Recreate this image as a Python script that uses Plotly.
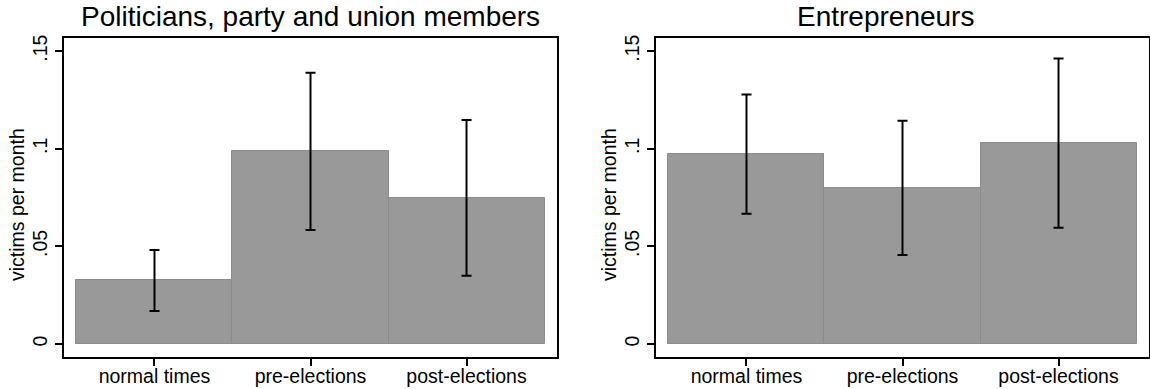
import plotly.graph_objects as go

categories = ["normal times", "pre-elections", "post-elections"]
x_pos = [1, 2, 3]

pol_values = [0.0326, 0.0988, 0.0749]
pol_upper = [0.0481, 0.1389, 0.1147]
pol_lower = [0.0169, 0.0584, 0.0350]

ent_values = [0.0974, 0.0800, 0.1029]
ent_upper = [0.1278, 0.1143, 0.1462]
ent_lower = [0.0667, 0.0456, 0.0595]

y_tickvals = [0, 0.05, 0.1, 0.15]
y_ticktext = ["0", ".05", ".1", ".15"]

titles = ["Politicians, party and union members", "Entrepreneurs"]
y_title = "victims per month"

W, H = 1150, 389
FONT = "Liberation Sans, Arial, sans-serif"
BAR = "#999999"
EDGE = "#8c8c8c"

fig = go.Figure()

panels = [
    (pol_values, pol_upper, pol_lower, "x", "y"),
    (ent_values, ent_upper, ent_lower, "x2", "y2"),
]
for vals, up, lo, xa, ya in panels:
    fig.add_trace(go.Bar(
        x=x_pos, y=vals, width=1,
        marker=dict(color=BAR, line=dict(color=EDGE, width=1)),
        error_y=dict(type="data", symmetric=False,
                     array=[u - v for u, v in zip(up, vals)],
                     arrayminus=[v - l for v, l in zip(vals, lo)],
                     color="black", thickness=2, width=5),
        xaxis=xa, yaxis=ya, showlegend=False, hoverinfo="skip",
    ))

px_x = lambda p: p / W
px_y = lambda p: (H - p) / H

top, bottom = 38, 357
dom_y = [px_y(bottom), px_y(top)]
left_dom = [px_x(64), px_x(557)]
right_dom = [px_x(656), px_x(1149)]

xaxis_common = dict(
    range=[0.42, 3.58], tickvals=x_pos, ticktext=categories,
    ticks="outside", ticklen=7, tickwidth=1.5, tickcolor="black",
    ticklabelstandoff=-6,
    showline=True, linecolor="black", linewidth=1.5, mirror=True,
    showgrid=False, zeroline=False, automargin=False,
    tickfont=dict(family=FONT, size=19.5, color="black"),
)
yaxis_common = dict(
    range=[-0.00666, 0.1567], tickvals=y_tickvals, ticktext=y_ticktext,
    ticks="outside", ticklen=7, tickwidth=1.5, tickcolor="black",
    tickangle=-90,
    showline=True, linecolor="black", linewidth=1.5, mirror=True,
    showgrid=False, zeroline=False, automargin=False,
    tickfont=dict(family=FONT, size=19.5, color="black"),
    domain=dom_y,
)

fig.update_layout(
    template="none",
    width=W, height=H,
    margin=dict(l=0, r=0, t=0, b=0, pad=0),
    paper_bgcolor="white", plot_bgcolor="white",
    bargap=0,
    xaxis=dict(domain=left_dom, anchor="y", **xaxis_common),
    yaxis=dict(anchor="x", **yaxis_common),
    xaxis2=dict(domain=right_dom, anchor="y2", **xaxis_common),
    yaxis2=dict(anchor="x2", **yaxis_common),
)

annotations = [
    dict(text=titles[0], x=px_x(310), y=px_y(17), xref="paper", yref="paper",
         xanchor="center", yanchor="middle", showarrow=False,
         font=dict(family=FONT, size=28, color="black")),
    dict(text=titles[1], x=px_x(885), y=px_y(17), xref="paper", yref="paper",
         xanchor="center", yanchor="middle", showarrow=False,
         font=dict(family=FONT, size=28, color="black")),
    dict(text=y_title, x=px_x(17), y=px_y(205), xref="paper", yref="paper",
         xanchor="center", yanchor="middle", showarrow=False, textangle=-90,
         font=dict(family=FONT, size=19.5, color="black")),
    dict(text=y_title, x=px_x(609), y=px_y(205), xref="paper", yref="paper",
         xanchor="center", yanchor="middle", showarrow=False, textangle=-90,
         font=dict(family=FONT, size=19.5, color="black")),
]
fig.update_layout(annotations=annotations)

fig.write_html("out.html")
